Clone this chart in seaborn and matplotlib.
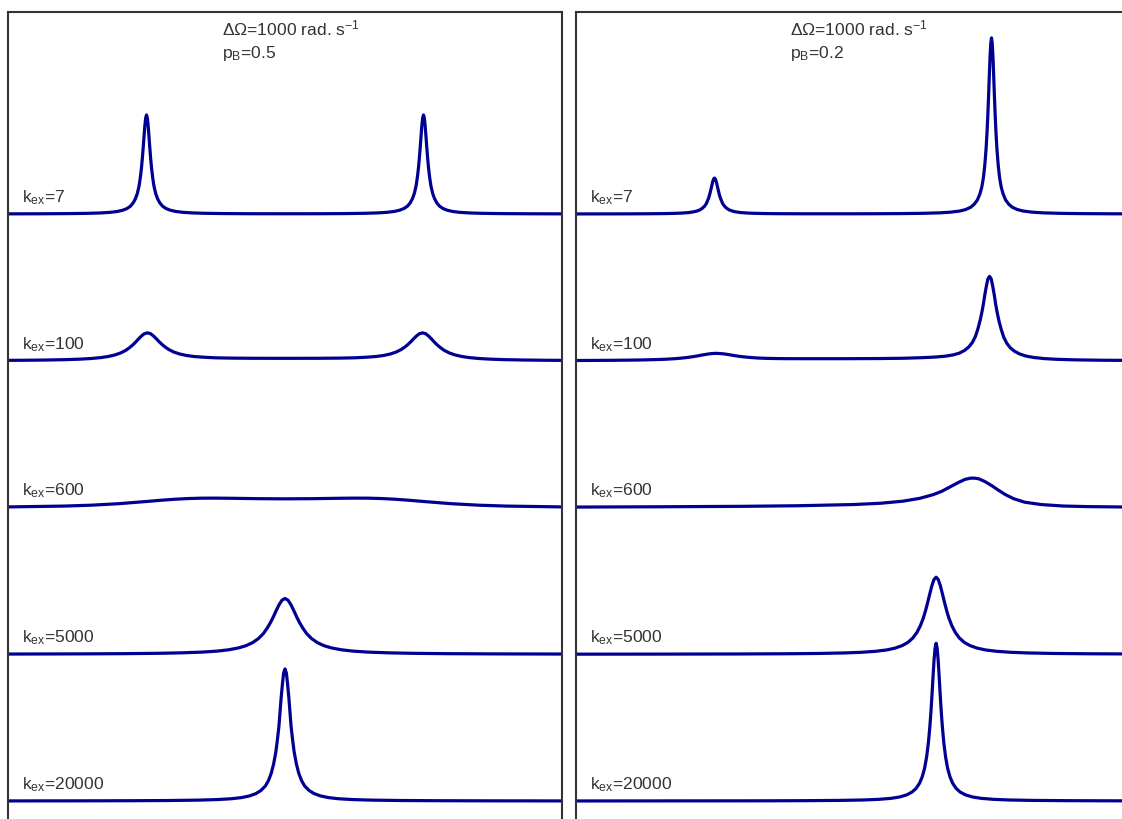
import matplotlib
matplotlib.use("Agg")
import matplotlib.pyplot as plt
import matplotlib.transforms as mtransforms
import pandas as pd
import seaborn as sns

# exchange parameters shown on the figure
delta_omega = 1000          # rad/s
kex_values = [7, 100, 600, 5000, 20000]
pb_values = [0.5, 0.2]

# ---- left panel, pB = 0.5 (frequency offset in rad/s, intensity in stack units) ----
left_x_7 = [-1000, -880, -780, -710, -665, -630, -605, -585, -570, -558, -548, -540, -533, -527,
            -522, -518, -515, -512, -509, -506, -503, -500, -497, -494, -491, -488, -485, -482,
            -478, -473, -467, -460, -452, -442, -430, -415, -395, -370, -335, -290, -220, -120, 0,
            120, 220, 290, 335, 370, 395, 415, 430, 442, 452, 460, 467, 473, 478, 482, 485, 488,
            491, 494, 497, 500, 503, 506, 509, 512, 515, 518, 522, 527, 533, 540, 548, 558, 570,
            585, 605, 630, 665, 710, 780, 880, 1000]
left_y_7 = [0.001, 0.0015, 0.0027, 0.0046, 0.0073, 0.0115, 0.0173, 0.0262, 0.0377, 0.0533, 0.0758,
            0.104, 0.141, 0.1895, 0.252, 0.318, 0.3795, 0.451, 0.527, 0.601, 0.654, 0.675, 0.654,
            0.601, 0.527, 0.451, 0.3795, 0.318, 0.252, 0.1895, 0.141, 0.104, 0.0758, 0.0535, 0.0379,
            0.0265, 0.0176, 0.0117, 0.0075, 0.0048, 0.0029, 0.0018, 0.0016,
            0.0018, 0.0029, 0.0048, 0.0075, 0.0117, 0.0176, 0.0265, 0.0379, 0.0535, 0.0758, 0.104,
            0.141, 0.1895, 0.252, 0.318, 0.3795, 0.451, 0.527, 0.601, 0.654, 0.675, 0.654, 0.601,
            0.527, 0.451, 0.3795, 0.318, 0.252, 0.1895, 0.141, 0.104, 0.0758, 0.0533, 0.0377,
            0.0262, 0.0173, 0.0115, 0.0073, 0.0046, 0.0027, 0.0015, 0.001]

left_x_100 = [-1000, -953, -869, -797, -743, -701, -665, -638, -614, -593, -575, -561, -550, -539,
              -529, -518, -508, -497, -486, -476, -465, -455, -444, -433, -419, -401, -380, -356,
              -329, -293, -251, -197, -120, 0,
              120, 197, 251, 293, 329, 356, 380, 401, 419, 433, 444, 455, 465, 476, 486, 497, 508,
              518, 529, 539, 550, 561, 575, 593, 614, 638, 665, 701, 743, 797, 869, 953, 1000]
left_y_100 = [0.0027, 0.0032, 0.0048, 0.0073, 0.0107, 0.0151, 0.0215, 0.0291, 0.0396, 0.0534, 0.0706,
              0.0895, 0.1071, 0.1275, 0.1483, 0.1693, 0.184, 0.19, 0.185, 0.171, 0.151, 0.131, 0.111,
              0.094, 0.076, 0.059, 0.046, 0.036, 0.029, 0.024, 0.020, 0.018, 0.0168, 0.0165,
              0.0168, 0.018, 0.020, 0.024, 0.029, 0.036, 0.046, 0.059, 0.076, 0.094, 0.111, 0.131,
              0.151, 0.171, 0.185, 0.19, 0.184, 0.1693, 0.1483, 0.1275, 0.1071, 0.0895, 0.0706,
              0.0534, 0.0396, 0.0291, 0.0215, 0.0151, 0.0107, 0.0073, 0.0048, 0.0032, 0.0027]

left_x_600 = [-1000, -800, -700, -600, -500, -450, -400, -350, -300, -250, -200, -100, 0,
              100, 200, 250, 300, 350, 400, 450, 500, 600, 700, 800, 1000]
left_y_600 = [0.004, 0.0096, 0.0157, 0.026, 0.041, 0.049, 0.056, 0.061, 0.0636, 0.0639, 0.063, 0.0602, 0.059,
              0.0602, 0.063, 0.0639, 0.0636, 0.061, 0.056, 0.049, 0.041, 0.026, 0.0157, 0.0096, 0.004]

left_x_5000 = [-1000, -744, -582, -456, -372, -300, -246, -204, -168, -141, -117, -96, -78, -64,
               -53, -42, -32, -21, -11, 0, 11, 21, 32, 42, 53, 64, 78, 96, 117, 141, 168, 204,
               246, 300, 372, 456, 582, 744, 1000]
left_y_5000 = [0.0014, 0.0025, 0.004, 0.0065, 0.0097, 0.0146, 0.0213, 0.0302, 0.043, 0.0583, 0.0791,
               0.1067, 0.1412, 0.179, 0.2142, 0.255, 0.2967, 0.3385, 0.368, 0.38, 0.368, 0.3385,
               0.2967, 0.255, 0.2142, 0.179, 0.1412, 0.1067, 0.0791, 0.0583, 0.043, 0.0302, 0.0213,
               0.0146, 0.0097, 0.0065, 0.004, 0.0025, 0.0014]

left_x_20000 = [-1000, -740, -561, -421, -316, -247, -194, -158, -128, -105, -87, -71, -60, -50,
                -41, -33, -27, -22, -18, -14, -9, -5, 0, 5, 9, 14, 18, 22, 27, 33, 41, 50, 60, 71,
                87, 105, 128, 158, 194, 247, 316, 421, 561, 740, 1000]
left_y_20000 = [0.0006, 0.0011, 0.0019, 0.0033, 0.0059, 0.0095, 0.0153, 0.0229, 0.0347, 0.0505,
                0.0716, 0.102, 0.138, 0.187, 0.253, 0.335, 0.424, 0.507, 0.604, 0.703, 0.802, 0.872,
                0.9, 0.872, 0.802, 0.703, 0.604, 0.507, 0.424, 0.335, 0.253, 0.187, 0.138, 0.102,
                0.0716, 0.0505, 0.0347, 0.0229, 0.0153, 0.0095, 0.0059, 0.0033, 0.0019, 0.0011, 0.0006]

# ---- right panel, pB = 0.2 ----
right_x_7 = [-1000, -814, -736, -684, -644, -618, -595, -578, -565, -553, -545, -537, -530, -525,
             -520, -516.7, -513.3, -510, -506.7, -503.4, -500, -496.6, -493.3, -490, -486.7, -483.3,
             -480, -475, -470, -463, -455, -447, -435, -422, -405, -382, -356, -316, -264, -186, 0,
             65, 170, 252, 314, 354, 386, 407, 425, 438, 449, 458, 465, 471, 476, 480.5, 484.1,
             486.8, 489.5, 492, 494.7, 497.3, 500, 502.7, 505.3, 508, 510.5, 513.2, 515.9, 519.5,
             524, 529, 535, 542, 551, 562, 575, 593, 614, 646, 686, 748, 830, 935, 1000]
right_y_7 = [0.0005, 0.001, 0.0017, 0.0027, 0.0043, 0.0063, 0.0095, 0.0138, 0.0196, 0.0278, 0.0377,
             0.0511, 0.0689, 0.0912, 0.1155, 0.1382, 0.1645, 0.1914, 0.2184, 0.2374, 0.245, 0.2374,
             0.2184, 0.1914, 0.1645, 0.1382, 0.1155, 0.0912, 0.069, 0.0512, 0.0378, 0.028, 0.0199,
             0.0141, 0.0098, 0.0066, 0.0046, 0.003, 0.002, 0.0015, 0.0015,
             0.0017, 0.0027, 0.0046, 0.008, 0.0128, 0.0205, 0.0306, 0.0463, 0.0674, 0.0956, 0.136,
             0.184, 0.25, 0.337, 0.446, 0.565, 0.676, 0.805, 0.937, 1.069, 1.162, 1.2, 1.162, 1.069,
             0.937, 0.805, 0.676, 0.565, 0.446, 0.337, 0.25, 0.184, 0.136, 0.0955, 0.0673, 0.0462,
             0.0305, 0.0204, 0.0126, 0.0078, 0.0044, 0.0025, 0.0014, 0.0011]

right_x_100 = [-1000, -955, -872, -808, -753, -711, -674, -642, -615, -593, -576, -559, -544, -527,
               -512, -495, -478, -463, -446, -431, -414, -397, -375, -348, -316, -279, -237, -182,
               -118, -35, 96, 183, 250, 295, 333, 362, 384, 403, 418, 431, 442, 451, 459, 465, 471,
               476, 482, 487, 493, 499, 504, 510, 515, 521, 527, 535, 544, 555, 568, 583, 602, 624,
               653, 691, 736, 803, 890, 1000]
right_y_100 = [0.0018, 0.0021, 0.003, 0.0042, 0.0059, 0.0079, 0.0106, 0.0142, 0.0188, 0.0237, 0.0284,
               0.0338, 0.0392, 0.0447, 0.0486, 0.0505, 0.049, 0.046, 0.041, 0.036, 0.031, 0.027, 0.023,
               0.019, 0.0165, 0.015, 0.0142, 0.014, 0.014, 0.014, 0.015, 0.017, 0.021, 0.025, 0.031,
               0.040, 0.052, 0.071, 0.094, 0.125, 0.166, 0.218, 0.275, 0.328, 0.389, 0.451, 0.514,
               0.558, 0.575, 0.557, 0.5123, 0.4489, 0.3859, 0.3241, 0.2708, 0.2137, 0.1615, 0.1197,
               0.0881, 0.065, 0.0458, 0.0323, 0.0221, 0.0146, 0.0098, 0.006, 0.0037, 0.0023]

right_x_600 = [-1000, -700, -400, -200, 0, 100, 180, 240, 290, 320, 350, 380, 405, 425, 440,
               455, 475, 500, 525, 550, 580, 620, 680, 760, 850, 1000]
right_y_600 = [0.003, 0.005, 0.008, 0.012, 0.02, 0.029, 0.043, 0.062, 0.088, 0.11, 0.14, 0.17, 0.192,
               0.2, 0.2, 0.195, 0.178, 0.15, 0.118, 0.088, 0.06, 0.036, 0.02, 0.01, 0.006, 0.003]

right_x_5000 = [-1000, -700, -418, -239, -122, -31, 30, 82, 122, 152, 178, 198, 215.2, 230.4,
                243.4, 253.9, 261.7, 269.5, 277, 284.8, 292.2, 300, 307.8, 315.2, 323, 330.5,
                338.3, 346.1, 356.6, 369.6, 384.8, 402, 422, 448, 478, 518, 570, 631, 722, 839, 1000]
right_y_5000 = [0.0006, 0.001, 0.0019, 0.0034, 0.0055, 0.0089, 0.0133, 0.0202, 0.0295, 0.0418, 0.0594,
                0.0805, 0.1093, 0.1475, 0.1951, 0.2472, 0.2959, 0.3523, 0.4099, 0.4677, 0.5085, 0.525,
                0.5085, 0.4677, 0.4099, 0.3523, 0.2959, 0.2472, 0.1951, 0.1475, 0.1093, 0.0805, 0.0594,
                0.0418, 0.0295, 0.0202, 0.0133, 0.0089, 0.0055, 0.0034, 0.002]

right_x_20000 = [-1000, -318, -169, -51, 36, 93, 138, 168, 193.5, 212.7, 227.6, 240.4, 249.9, 258.5,
                 265.9, 272.3, 277.4, 281.3, 285.1, 288.7, 292.5, 296.2, 300, 303.8, 307.5, 311.3,
                 314.9, 318.7, 322.6, 327.7, 334.1, 341.5, 350.1, 359.6, 372.4, 387.3, 406.5, 432,
                 462, 507, 564, 651, 769, 918, 1000]
right_y_20000 = [0.0003, 0.0013, 0.0023, 0.004, 0.007, 0.0113, 0.0183, 0.0273, 0.0414, 0.0603, 0.0856,
                 0.1216, 0.1648, 0.2238, 0.302, 0.3996, 0.5062, 0.6059, 0.7214, 0.8393, 0.9577, 1.041,
                 1.075, 1.041, 0.9577, 0.8393, 0.7214, 0.6059, 0.5062, 0.3996, 0.302, 0.2238, 0.1648,
                 0.1216, 0.0856, 0.0603, 0.0414, 0.0273, 0.0183, 0.0113, 0.007, 0.004, 0.0023, 0.0013,
                 0.0011]

LINE = "#000092"
TEXT = "#333333"

sns.set_style("white")
plt.rcParams["font.family"] = ["Liberation Sans", "DejaVu Sans"]
plt.rcParams["mathtext.fontset"] = "custom"
plt.rcParams["mathtext.rm"] = "Liberation Sans"
plt.rcParams["mathtext.default"] = "regular"


def build_frame(xs, ys):
    # stack the spectra: slowest exchange on top
    rows = []
    n = len(kex_values)
    for i, (k, x, y) in enumerate(zip(kex_values, xs, ys)):
        assert len(x) == len(y), (k, len(x), len(y))
        offset = n - 1 - i
        for xi, yi in zip(x, y):
            rows.append({"kex": k, "freq": xi, "signal": yi + offset})
    return pd.DataFrame(rows)


panels = [
    (pb_values[0], [left_x_7, left_x_100, left_x_600, left_x_5000, left_x_20000],
     [left_y_7, left_y_100, left_y_600, left_y_5000, left_y_20000]),
    (pb_values[1], [right_x_7, right_x_100, right_x_600, right_x_5000, right_x_20000],
     [right_y_7, right_y_100, right_y_600, right_y_5000, right_y_20000]),
]

fig = plt.figure(figsize=(11.22, 8.19), dpi=100)
ax_w = 554 / 1122
ax_h = 818 / 819
ax_bottom = -11 / 819
lefts = [8 / 1122, 576 / 1122]

for left, (pb, xs, ys) in zip(lefts, panels):
    ax = fig.add_axes([left, ax_bottom, ax_w, ax_h])
    df = build_frame(xs, ys)
    sns.lineplot(data=df, x="freq", y="signal", units="kex", estimator=None,
                 color=LINE, lw=2.3, legend=False, ax=ax)
    ax.set_xlim(-1000, 1000)
    ax.set_ylim(-0.1976, 5.3765)
    ax.set_xticks([])
    ax.set_yticks([])
    ax.set_xlabel("")
    ax.set_ylabel("")
    for s in ax.spines.values():
        s.set_visible(True)
        s.set_color(TEXT)
        s.set_linewidth(1.5)

    trans = mtransforms.blended_transform_factory(ax.transAxes, ax.transData)
    n = len(kex_values)
    for i, k in enumerate(kex_values):
        ax.text(0.025, n - 1 - i + 0.08, f"k$_{{ex}}$={k}", transform=trans,
                fontsize=12.6, color=TEXT, va="baseline", ha="left")

    ax.text(0.386, 0.9719, f"\u0394\u03a9={delta_omega} rad. s$^{{-1}}$", transform=ax.transAxes,
            fontsize=12.6, color=TEXT, va="baseline", ha="left")
    ax.text(0.386, 0.9438, f"p$_B$={pb}", transform=ax.transAxes,
            fontsize=12.6, color=TEXT, va="baseline", ha="left")

fig.savefig("out.png", dpi=100)
